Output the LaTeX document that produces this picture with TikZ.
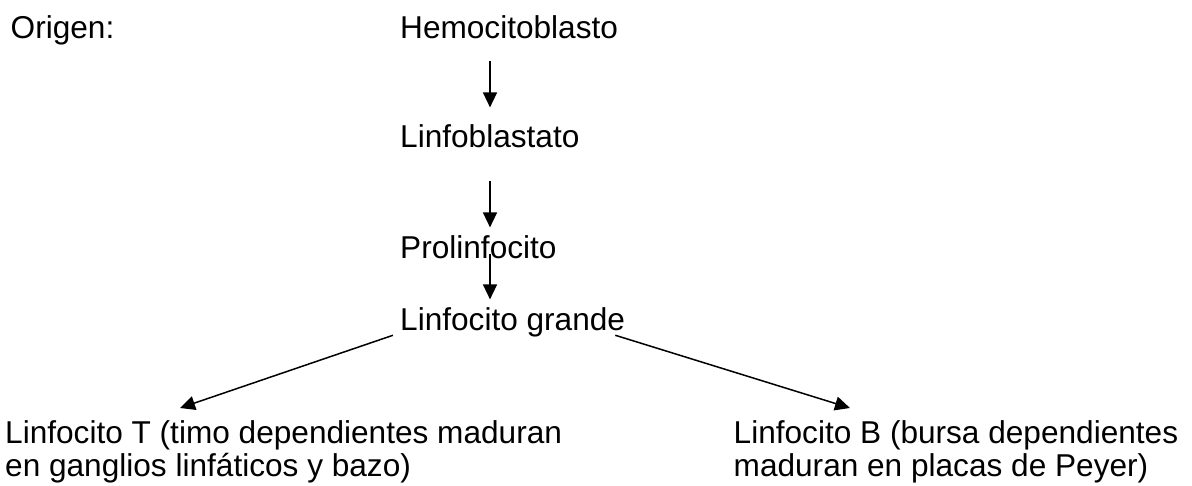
\documentclass[tikz,border=0pt]{standalone}
\usepackage{fontspec}
\setmainfont{Liberation Sans}
\usetikzlibrary{arrows.meta}

\begin{document}
\begin{tikzpicture}[x=1pt,y=-1pt]
		\tikzset{
			etiq/.style={
				inner sep=0pt, anchor=base west, font=\fontsize{31.6}{33}\selectfont
			},
			bloque/.style={
				etiq, anchor=north west, align=left
			},
			flecha/.style={
				line width=1.5pt, -{Triangle[length=15pt,width=14pt]}
			}
		}
		\useasboundingbox (0,0) rectangle (1192,485);
		
		\node [etiq] (origen) at (10.5,38) {Origen:};
		\node [etiq] (hemo) at (400,38) {Hemocitoblasto};
		\node [etiq] (linfob) at (400,147) {Linfoblastato};
		\node [etiq] (prolin) at (400,258) {Prolinfocito};
		\node [etiq] (linfog) at (400,330) {Linfocito grande};
		
		\node [bloque] (linT) at (5,420) {Linfocito T (timo dependientes maduran\\en ganglios linfáticos y bazo)};
		\node [bloque] (linB) at (733.5,420) {Linfocito B (bursa dependientes\\maduran en placas de Peyer)};
		
		\coordinate (eje) at (490,0);
		\foreach \a/\b/\s/\e in {hemo/linfob/22/16.5, linfob/prolin/33/7.5, prolin/linfog/-5/7.5}{
			\draw [flecha, shorten <=\s pt, shorten >=\e pt] (\a.south -| eje) -- (\b.north -| eje);
		}
		
		\draw [flecha] ([xshift=-7pt,yshift=1.5pt]linfog.south west) -- ([xshift=175pt,yshift=12pt]linT.north west);
		\draw [flecha] ([xshift=-10pt,yshift=1.5pt]linfog.south east) -- ([xshift=116.5pt,yshift=12pt]linB.north west);
		\end{tikzpicture}
\end{document}
